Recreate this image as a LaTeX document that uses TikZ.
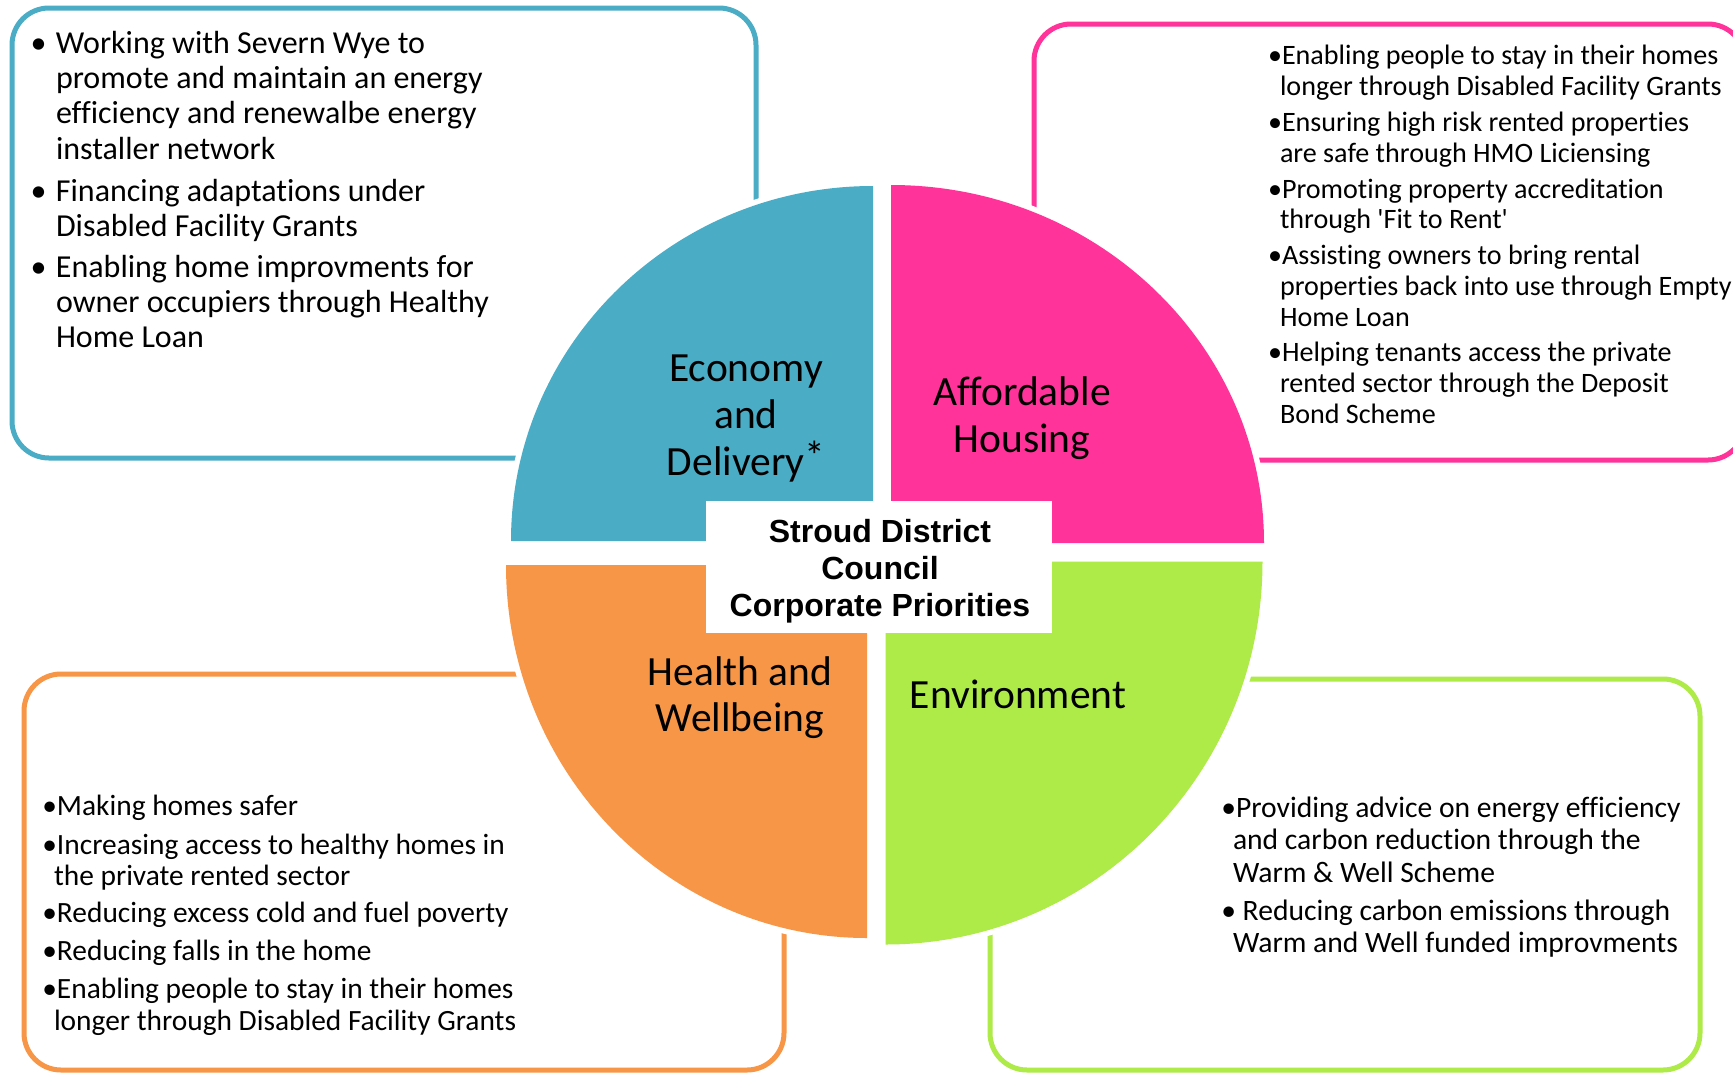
\documentclass[tikz,border=0pt]{standalone}
\usepackage{fontspec}
\setmainfont{Carlito}[Ligatures={NoCommon}]
\newfontfamily\hubfont{Liberation Sans}
\definecolor{cblue}{RGB}{75,172,198}
\definecolor{cpink}{RGB}{255,51,153}
\definecolor{corange}{RGB}{247,150,70}
\definecolor{cgreen}{RGB}{174,234,72}
\newcommand\Lft[2]{\vtop{\baselineskip=#1\relax\lineskiplimit=-100pt\halign{##\hfil\cr#2\crcr}}}
\newcommand\Ctr[2]{\vtop{\baselineskip=#1\relax\lineskiplimit=-100pt\halign{\hfil##\hfil\cr#2\crcr}}}
\begin{document}
\begin{tikzpicture}[x=1pt,y=-1pt,
  boxline/.style={line width=5pt, rounded corners=37pt},
  quadfill/.style={fill=#1, preaction={draw=white, line width=11pt, line join=round}},
  txt/.style={inner sep=0pt, outer sep=0pt, anchor=base west},
  bluetxt/.style={txt, font=\fontsize{32pt}{35.2pt}\selectfont},
  pinktxt/.style={txt, font=\fontsize{28.1pt}{30.8pt}\selectfont},
  orangetxt/.style={txt, font=\fontsize{29.4pt}{31.5pt}\selectfont},
  greentxt/.style={txt, font=\fontsize{29.6pt}{32.2pt}\selectfont},
  quadlabel/.style={inner sep=0pt, outer sep=0pt, anchor=base, font=\fontsize{41.5pt}{47pt}\selectfont},
  hublabel/.style={inner sep=0pt, outer sep=0pt, anchor=base, font=\hubfont\bfseries\fontsize{32pt}{37pt}\selectfont},
]
\useasboundingbox[fill=white] (0,0) rectangle (1733,1072);

% outer rounded boxes
\draw[boxline, cblue]   (12,8) rectangle (756,458);
\draw[boxline, cpink]   (1034,24) rectangle (1745,460);
\draw[boxline, corange] (24,674) rectangle (784,1070);
\draw[boxline, cgreen]  (990,679) rectangle (1700,1070);

% quadrants
\path[quadfill=cblue]   (873,541) -- (511,541) arc[start angle=180, end angle=270, x radius=362, y radius=355] -- cycle;
\path[quadfill=cpink]   (891,543) -- (891,185) arc[start angle=270, end angle=360, x radius=373, y radius=358] -- cycle;
\path[quadfill=corange] (867,565) -- (867,938) arc[start angle=90, end angle=180, x radius=361, y radius=373] -- cycle;
\path[quadfill=cgreen]  (885.5,561.5) -- (1262.5,561.5) arc[start angle=0, end angle=90, x radius=377, y radius=383] -- cycle;

% hub
\node[fill=white, inner sep=0pt, minimum width=346pt, minimum height=132pt] (hub) at (879,567) {};
\node[hublabel] (hubtext) at (880,542) {\Ctr{37pt}{Stroud District\cr Council\cr Corporate Priorities}};

% quadrant labels
\node[quadlabel] (econ) at (746,381.4) {\Ctr{47pt}{Economy\cr and\cr Delivery\raisebox{5pt}{*}}};
\node[quadlabel] (afford) at (1022,405) {\Ctr{47pt}{Affordable\cr Housing}};
\node[quadlabel] (health) at (740,685) {\Ctr{46pt}{Health and\cr Wellbeing}};
\node[quadlabel] (env) at (1018,708) {Environment};

% blue box text
\node[bluetxt] (b1) at (56,53.4) {\Lft{35.2pt}{\llap{•\hskip9.4pt}Working with Severn Wye to\cr promote and maintain an energy\cr efficiency and renewalbe energy\cr installer network}};
\node[bluetxt] (b2) at (56,201.4) {\Lft{35.2pt}{\llap{•\hskip9.4pt}Financing adaptations under\cr Disabled Facility Grants}};
\node[bluetxt] (b3) at (56,277.2) {\Lft{35.2pt}{\llap{•\hskip9.4pt}Enabling home improvments for\cr owner occupiers through Healthy\cr Home Loan}};

% pink box text
\node[pinktxt] (p1) at (1280,64.7) {\Lft{30.8pt}{\hskip2pt\llap{•}Enabling people to stay in their homes\cr longer through Disabled Facility Grants}};
\node[pinktxt] (p2) at (1280,131.9) {\Lft{30.8pt}{\hskip2pt\llap{•}Ensuring high risk rented properties\cr are safe through HMO Liciensing}};
\node[pinktxt] (p3) at (1280,198) {\Lft{30.8pt}{\hskip2pt\llap{•}Promoting property accreditation\cr through \textquotesingle Fit to Rent\textquotesingle}};
\node[pinktxt] (p4) at (1280,264.5) {\Lft{30.8pt}{\hskip2pt\llap{•}Assisting owners to bring rental\cr properties back into use through Empty\cr Home Loan}};
\node[pinktxt] (p5) at (1280,361.6) {\Lft{30.8pt}{\hskip2pt\llap{•}Helping tenants access the private\cr rented sector through the Deposit\cr Bond Scheme}};

% orange box text
\node[orangetxt] (o1) at (54,815.5) {\Lft{31.5pt}{\hskip3pt\llap{•}Making homes safer}};
\node[orangetxt] (o2) at (54,854) {\Lft{31.5pt}{\hskip3pt\llap{•}Increasing access to healthy homes in\cr the private rented sector}};
\node[orangetxt] (o3) at (54,922.8) {\Lft{31.5pt}{\hskip3pt\llap{•}Reducing excess cold and fuel poverty}};
\node[orangetxt] (o4) at (54,960.8) {\Lft{31.5pt}{\hskip3pt\llap{•}Reducing falls in the home}};
\node[orangetxt] (o5) at (54,998.8) {\Lft{31.5pt}{\hskip3pt\llap{•}Enabling people to stay in their homes\cr longer through Disabled Facility Grants}};

% green box text
\node[greentxt] (g1) at (1233,817.6) {\Lft{32.2pt}{\hskip3pt\llap{•}Providing advice on energy efficiency\cr and carbon reduction through the\cr Warm \& Well Scheme}};
\node[greentxt] (g2) at (1233,920) {\Lft{32.2pt}{\hskip3pt\llap{•}\ Reducing carbon emissions through\cr Warm and Well funded improvments}};
\end{tikzpicture}
\end{document}
